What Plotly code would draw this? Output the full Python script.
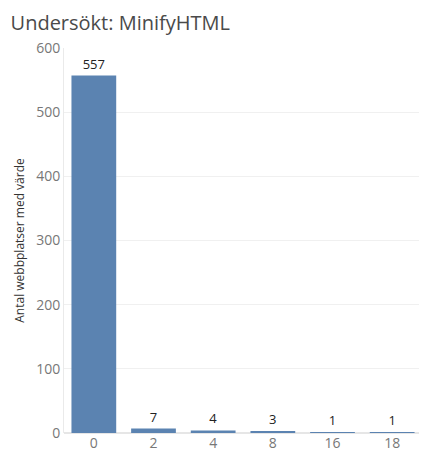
import plotly.graph_objects as go

# Data
categories = ["0", "2", "4", "8", "16", "18"]
counts = [557, 7, 4, 3, 1, 1]
y_ticks = [0, 100, 200, 300, 400, 500, 600]

title_text = "Undersökt: MinifyHTML"
y_title = "Antal webbplatser med värde"

fig = go.Figure()

fig.add_trace(
    go.Bar(
        x=categories,
        y=counts,
        marker_color="#5b83b1",
        marker_line_width=0,
        text=[str(v) for v in counts],
        textposition="outside",
        textfont=dict(family="Open Sans", size=13, color="#222222"),
        cliponaxis=False,
        showlegend=False,
    )
)

# page body has an 8px margin, so the margins below allow for it
fig.update_layout(
    width=427, height=461,
    template="plotly_white",
    plot_bgcolor="white",
    paper_bgcolor="white",
    bargap=0.25,
    margin=dict(l=54, r=13, t=40, b=36),
    title=dict(
        text=title_text,
        x=0.006, xanchor="left",
        y=0.968, yanchor="middle",
        font=dict(family="Open Sans", size=20, color="#4a4a4a"),
    ),
)

fig.update_xaxes(
    type="category",
    showgrid=False,
    showline=False,
    ticks="",
    tickfont=dict(family="Open Sans", size=14, color="#777777"),
)

fig.update_yaxes(
    range=[0, 600],
    tickvals=y_ticks,
    showgrid=True,
    gridcolor="#f0f0f0",
    zeroline=True,
    zerolinecolor="#e6e6e6",
    showline=True,
    linecolor="#eaeaea",
    ticks="",
    tickfont=dict(family="Open Sans", size=14, color="#777777"),
    title=dict(text=y_title, font=dict(family="Open Sans", size=12, color="#333333"),
               standoff=8),
)

fig.write_html("out.html")
